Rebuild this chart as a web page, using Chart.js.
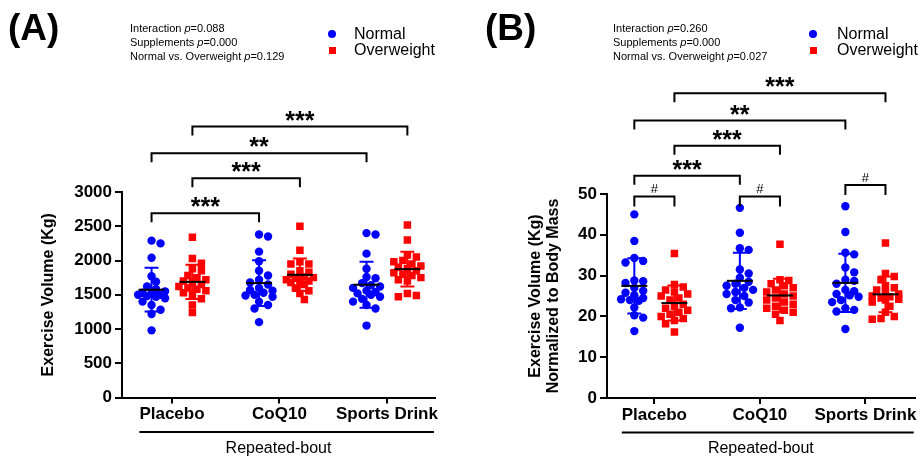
<!DOCTYPE html>
<html>
<head>
<meta charset="utf-8">
<script src="https://cdn.jsdelivr.net/npm/chart.js@4.4.1/dist/chart.umd.min.js"></script>
<style>
  body { margin: 0; background: #fff; }
  #wrap { position: relative; width: 920px; height: 458px; overflow: hidden;
          font-family: 'Liberation Sans', Arial, sans-serif; color: #000; }
  canvas { position: absolute; top: 0; }
  .tag { position: absolute; top: 9px; font-size: 37px; font-weight: bold; line-height: 37px; }
  .stats { position: absolute; top: 21px; font-size: 11px; line-height: 14.2px; white-space: nowrap; }
  .legend { position: absolute; top: 25.6px; font-size: 16px; line-height: 16.7px; }
  .legend div { position: relative; white-space: nowrap; }
  .dot { position: absolute; left: 0; top: 4.3px; width: 8px; height: 8px; border-radius: 50%; background: #0000ff; }
  .sq { position: absolute; left: 0.5px; top: 4.8px; width: 7px; height: 7px; background: #ff0000; }
</style>
</head>
<body>
<div id="wrap">
  <canvas id="chartA" width="460" height="458" style="left:0"></canvas>
  <canvas id="chartB" width="460" height="458" style="left:460px"></canvas>

  <div class="tag" style="left:8px">(A)</div>
  <div class="stats" style="left:130px">Interaction <i>p</i>=0.088<br>Supplements <i>p</i>=0.000<br>Normal vs. Overweight <i>p</i>=0.129</div>
  <div class="legend" style="left:328px">
    <div style="padding-left:26px"><span class="dot"></span>Normal</div>
    <div style="padding-left:26px"><span class="sq"></span>Overweight</div>
  </div>

  <div class="tag" style="left:485px">(B)</div>
  <div class="stats" style="left:613px">Interaction <i>p</i>=0.260<br>Supplements <i>p</i>=0.000<br>Normal vs. Overweight <i>p</i>=0.027</div>
  <div class="legend" style="left:809px">
    <div style="padding-left:28px"><span class="dot"></span>Normal</div>
    <div style="padding-left:28px"><span class="sq"></span>Overweight</div>
  </div>
</div>

<script>
  const groups = ['Placebo', 'CoQ10', 'Sports Drink'];

  // (A) exercise volume, Kg - one row per supplement
  const volNormal = [
    [2290, 2250, 2040, 1770, 1690, 1620, 1580, 1550, 1530, 1520, 1500, 1500, 1480, 1470, 1450, 1400, 1350, 1280, 1220, 980],
    [2380, 2350, 2130, 1990, 1850, 1780, 1720, 1680, 1650, 1600, 1570, 1560, 1530, 1500, 1490, 1470, 1400, 1350, 1300, 1100],
    [2400, 2380, 2100, 1880, 1760, 1740, 1670, 1640, 1620, 1600, 1560, 1540, 1520, 1500, 1470, 1440, 1400, 1350, 1300, 1050]
  ];
  const volOver = [
    [2340, 2030, 1960, 1880, 1850, 1780, 1750, 1720, 1700, 1680, 1650, 1620, 1600, 1580, 1560, 1530, 1500, 1440, 1350, 1240],
    [2500, 2150, 1980, 1950, 1950, 1850, 1830, 1800, 1760, 1750, 1740, 1720, 1700, 1700, 1680, 1650, 1600, 1560, 1520, 1430],
    [2520, 2300, 2080, 2050, 2000, 1980, 1950, 1920, 1900, 1880, 1850, 1820, 1800, 1780, 1750, 1720, 1700, 1520, 1490, 1470]
  ];

  // (B) exercise volume normalized to body mass
  const relNormal = [
    [45.0, 38.5, 34.3, 33.6, 33.2, 28.8, 28.6, 28.2, 27.0, 26.3, 25.8, 25.2, 24.5, 24.2, 24.0, 23.8, 22.2, 20.3, 19.7, 16.4],
    [46.6, 40.5, 36.7, 36.3, 31.5, 30.5, 29.5, 28.5, 28.0, 27.5, 27.0, 26.5, 26.0, 25.5, 25.0, 24.0, 23.4, 22.2, 22.0, 17.2],
    [47.0, 40.7, 35.6, 35.2, 32.0, 30.8, 29.0, 28.7, 28.0, 26.5, 26.2, 25.5, 25.2, 24.8, 24.0, 23.5, 22.0, 21.6, 21.2, 16.9]
  ];
  const relOver = [
    [35.4, 27.8, 27.2, 26.5, 26.0, 25.5, 25.0, 24.5, 24.0, 23.0, 22.5, 22.0, 21.5, 21.0, 20.5, 20.0, 19.5, 19.0, 18.2, 16.2],
    [37.7, 29.0, 28.8, 28.0, 27.5, 27.0, 26.5, 26.0, 25.5, 25.0, 24.5, 24.0, 23.5, 23.0, 22.5, 22.0, 21.5, 21.0, 20.5, 19.0],
    [38.0, 30.5, 29.8, 29.0, 27.5, 27.0, 26.5, 26.0, 25.5, 25.0, 24.8, 24.5, 24.2, 24.0, 23.5, 22.5, 21.0, 20.0, 19.5, 19.3]
  ];

  const yTicksA = [0, 500, 1000, 1500, 2000, 2500, 3000];
  const yTicksB = [0, 10, 20, 30, 40, 50];

  // post-hoc comparisons: [group, series] pairs, n = Normal, o = Overweight
  const compA = [
    { a: [1, 'n'], b: [2, 'n'], level: 2690, text: '***' },
    { a: [1, 'o'], b: [2, 'o'], level: 3200, text: '***' },
    { a: [1, 'n'], b: [3, 'n'], level: 3565, text: '**' },
    { a: [1, 'o'], b: [3, 'o'], level: 3955, text: '***' }
  ];
  const compB = [
    { a: [1, 'n'], b: [1, 'o'], level: 49.4, text: '#' },
    { a: [2, 'n'], b: [2, 'o'], level: 49.4, text: '#' },
    { a: [3, 'n'], b: [3, 'o'], level: 52.2, text: '#' },
    { a: [1, 'n'], b: [2, 'n'], level: 54.5, text: '***' },
    { a: [1, 'o'], b: [2, 'o'], level: 61.8, text: '***' },
    { a: [1, 'n'], b: [3, 'n'], level: 68.0, text: '**' },
    { a: [1, 'o'], b: [3, 'o'], level: 74.7, text: '***' }
  ];

  const SHIFT = { n: -0.19, o: 0.19 };
  const BLUE = '#0000ff', RED = '#ff0000';
  const FONT = "'Liberation Sans', Arial, sans-serif";

  Chart.defaults.font.family = FONT;
  Chart.defaults.color = '#000';

  // spread points sideways like a column scatter so they don't pile up
  function swarm(rows, shift, pxPerY) {
    const pts = [];
    rows.forEach((vals, g) => {
      const placed = [];
      const order = vals.map((v, i) => i).sort((p, q) => vals[q] - vals[p]);
      order.forEach(i => {
        const yp = vals[i] * pxPerY;
        let best = 0, bestD = -1;
        for (let k = 0; k < 7; k++) {
          const dx = (k % 2 ? 1 : -1) * Math.ceil(k / 2) * 4.5;
          let d = Infinity;
          placed.forEach(p => { d = Math.min(d, Math.hypot(p.dx - dx, p.yp - yp)); });
          if (d >= 7) { best = dx; break; }
          if (d > bestD) { bestD = d; best = dx; }
        }
        placed.push({ dx: best, yp });
        pts.push({ x: g + 1 + shift + best / 107.5, y: vals[i] });
      });
    });
    return pts;
  }

  function meanSd(vals) {
    const m = vals.reduce((a, b) => a + b, 0) / vals.length;
    const v = vals.reduce((a, b) => a + (b - m) * (b - m), 0) / (vals.length - 1);
    return [m, Math.sqrt(v)];
  }

  const marks = {
    id: 'marks',
    afterDatasetsDraw(chart) {
      const { ctx, scales: { x, y } } = chart;
      ctx.save();
      ctx.lineWidth = 2;
      chart.data.datasets.forEach(ds => {
        ds.rows.forEach((vals, g) => {
          const [m, sd] = meanSd(vals);
          const cx = x.getPixelForValue(g + 1 + ds.shift);
          const top = y.getPixelForValue(m + sd), bot = y.getPixelForValue(m - sd);
          const mid = y.getPixelForValue(m);
          ctx.strokeStyle = ds.backgroundColor;
          ctx.beginPath();
          ctx.moveTo(cx, top); ctx.lineTo(cx, bot);
          ctx.moveTo(cx - 7, top); ctx.lineTo(cx + 7, top);
          ctx.moveTo(cx - 7, bot); ctx.lineTo(cx + 7, bot);
          ctx.stroke();
          ctx.strokeStyle = '#000';
          ctx.beginPath();
          ctx.moveTo(cx - 13, mid); ctx.lineTo(cx + 13, mid);
          ctx.stroke();
        });
      });
      ctx.restore();
    },
    afterDraw(chart, args, opts) {
      const { ctx, chartArea, scales: { x, y } } = chart;
      ctx.save();
      ctx.strokeStyle = '#000';
      ctx.fillStyle = '#000';
      ctx.lineWidth = 2;
      ctx.textAlign = 'center';
      opts.comps.forEach(c => {
        const x1 = x.getPixelForValue(c.a[0] + SHIFT[c.a[1]]);
        const x2 = x.getPixelForValue(c.b[0] + SHIFT[c.b[1]]);
        const yy = y.getPixelForValue(c.level);
        const hash = c.text === '#';
        const drop = hash ? 10 : 9;
        ctx.beginPath();
        ctx.moveTo(x1, yy + drop); ctx.lineTo(x1, yy); ctx.lineTo(x2, yy); ctx.lineTo(x2, yy + drop);
        ctx.stroke();
        if (hash) {
          ctx.font = '13px ' + FONT;
          ctx.textBaseline = 'middle';
          ctx.fillText(c.text, (x1 + x2) / 2, yy - 7);
        } else {
          ctx.font = 'bold 25px ' + FONT;
          ctx.textBaseline = 'alphabetic';
          ctx.fillText(c.text, (x1 + x2) / 2, yy + 2);
        }
      });
      // group line under the category labels
      ctx.font = 'bold 17px ' + FONT;
      const half = ctx.measureText(groups[0]).width / 2;
      const ly = chartArea.bottom + 34.5;
      ctx.beginPath();
      ctx.moveTo(x.getPixelForValue(1) - half, ly);
      ctx.lineTo(chartArea.right - 1, ly);
      ctx.stroke();
      ctx.restore();
    }
  };

  function makeChart(id, normal, over, pxPerY, yTicks, yTitle, opt) {
    const axisLine = { display: true, color: '#000', width: 2 };
    return new Chart(document.getElementById(id), {
      type: 'scatter',
      data: {
        datasets: [
          { label: 'Normal', data: swarm(normal, SHIFT.n, pxPerY), rows: normal, shift: SHIFT.n,
            backgroundColor: BLUE, borderColor: BLUE, pointStyle: 'circle', pointRadius: 4.2, pointBorderWidth: 0 },
          { label: 'Overweight', data: swarm(over, SHIFT.o, pxPerY), rows: over, shift: SHIFT.o,
            backgroundColor: RED, borderColor: RED, pointStyle: 'rect', pointRadius: 5.3, pointBorderWidth: 0 }
        ]
      },
      options: {
        responsive: false,
        animation: false,
        layout: { padding: opt.padding },
        plugins: { legend: { display: false }, tooltip: { enabled: false }, marks: { comps: opt.comps } },
        scales: {
          x: {
            type: 'linear', min: opt.xMin, max: opt.xMax,
            afterBuildTicks: s => { s.ticks = groups.map((g, i) => ({ value: i + 1 })); },
            afterFit: s => { s.height = opt.xHeight; s.paddingLeft = 0; s.paddingRight = 0; },
            ticks: { callback: (v, i) => groups[i], font: { size: 17, weight: 'bold' }, padding: 1, maxRotation: 0, autoSkip: false },
            grid: { drawOnChartArea: false, drawTicks: true, tickLength: 6, color: '#000', lineWidth: 2 },
            border: axisLine,
            title: { display: true, text: 'Repeated-bout', font: { size: 16, lineHeight: 1.2 }, padding: { top: 0, bottom: 0 } }
          },
          y: {
            min: 0, max: yTicks[yTicks.length - 1],
            afterBuildTicks: s => { s.ticks = yTicks.map(v => ({ value: v })); },
            afterFit: s => { s.width = opt.yWidth; s.paddingTop = 0; s.paddingBottom = 0; },
            ticks: { callback: v => String(v), font: { size: 17, weight: 'bold' }, padding: 3 },
            grid: { drawOnChartArea: false, drawTicks: true, tickLength: 7, color: '#000', lineWidth: 2 },
            border: axisLine,
            title: { display: true, text: yTitle, font: { size: 16, weight: 'bold', lineHeight: 1.15 }, padding: { top: opt.titlePad, bottom: 0 } }
          }
        }
      },
      plugins: [marks]
    });
  }

  makeChart('chartA', volNormal, volOver, 0.0685, yTicksA, 'Exercise Volume (Kg)', {
    padding: { top: 192, left: 0, right: 25, bottom: 0 },
    xMin: 0.535, xMax: 3.447, xHeight: 60.5, yWidth: 122, titlePad: 39, comps: compA
  });
  makeChart('chartB', relNormal, relOver, 4.08, yTicksB, ['Exercise Volume (Kg)', 'Normalized to Body Mass'], {
    padding: { top: 194, left: 0, right: 1, bottom: 0 },
    xMin: 0.551, xMax: 3.467, xHeight: 60, yWidth: 147, titlePad: 66, comps: compB
  });
</script>
</body>
</html>
